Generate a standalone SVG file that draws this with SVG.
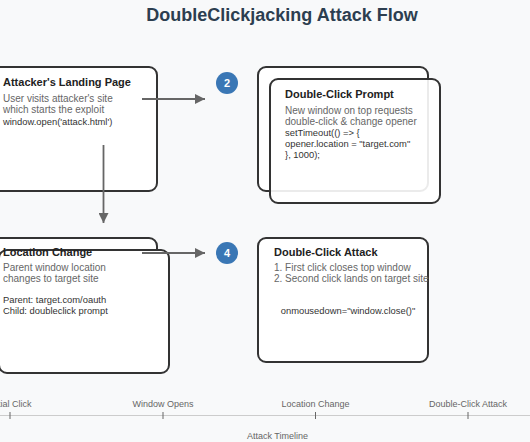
<svg xmlns="http://www.w3.org/2000/svg" width="530" height="442" viewBox="0 0 530 442">
<defs>
<marker id="arr" viewBox="0 0 10 10" refX="10" refY="5" markerWidth="10" markerHeight="10" markerUnits="userSpaceOnUse" orient="auto">
<path d="M0,0 L10,5 L0,10 Z" fill="#666"/>
</marker>
</defs>
<style>
.box{fill:#fff;stroke:#333;stroke-width:2}
.ttl{font-family:"Liberation Sans",Arial,sans-serif;font-size:11px;font-weight:bold;fill:#222}
.txt{font-family:"Liberation Sans",Arial,sans-serif;font-size:10px;fill:#666}
.code{font-family:"Liberation Sans",Arial,sans-serif;font-size:9.4px;fill:#333}
.num{font-family:"Liberation Sans",Arial,sans-serif;font-size:11px;font-weight:bold;fill:#fff}
.circ{fill:#3a77b5}
.conn{stroke:#666;stroke-width:1.8;fill:none}
.tl{font-family:"Liberation Sans",Arial,sans-serif;font-size:9px;fill:#666}
</style>
<rect width="530" height="442" fill="#f8f9fa"/>
<text x="282" y="21" text-anchor="middle" font-family="'Liberation Sans',Arial,sans-serif" font-size="18" font-weight="bold" fill="#2c3e50">DoubleClickjacking Attack Flow</text>

<g id="node-landing">
<rect class="box" x="-13" y="67" width="170" height="124" rx="8"/>
<text class="ttl" x="3" y="86">Attacker's Landing Page</text>
<text class="txt" x="3" y="102">User visits attacker's site</text>
<text class="txt" x="3" y="113">which starts the exploit</text>
<text class="code" x="3" y="125">window.open('attack.html')</text>
</g>

<g id="node-prompt">
<rect class="box" x="258" y="67" width="170" height="124" rx="8"/>
<rect class="box" x="270" y="79" width="170" height="124" rx="8" fill-opacity="0.9"/>
<text class="ttl" x="285" y="98">Double-Click Prompt</text>
<text class="txt" x="285" y="114">New window on top requests</text>
<text class="txt" x="285" y="125">double-click &amp; change opener</text>
<text class="code" x="285" y="136">setTimeout(() =&gt; {</text>
<text class="code" x="285" y="147">opener.location = "target.com"</text>
<text class="code" x="285" y="158">}, 1000);</text>
</g>

<g id="node-location">
<rect class="box" x="-13" y="238" width="170" height="124" rx="8"/>
<rect class="box" x="-1" y="250" width="170" height="123" rx="8"/>
<text class="ttl" x="3" y="256">Location Change</text>
<text class="txt" x="3" y="271">Parent window location</text>
<text class="txt" x="3" y="282">changes to target site</text>
<text class="code" x="3" y="303">Parent: target.com/oauth</text>
<text class="code" x="3" y="314">Child: doubleclick prompt</text>
</g>

<g id="node-attack">
<rect class="box" x="258" y="238" width="170" height="124" rx="8"/>
<text class="ttl" x="274" y="256">Double-Click Attack</text>
<text class="txt" x="274" y="271">1. First click closes top window</text>
<text class="txt" x="274" y="282">2. Second click lands on target site</text>
<text class="code" x="348" y="314" text-anchor="middle">onmousedown="window.close()"</text>
</g>

<g id="step-2">
<circle class="circ" cx="227" cy="83" r="11"/>
<text class="num" x="227" y="87" text-anchor="middle">2</text>
</g>
<g id="step-4">
<circle class="circ" cx="227" cy="253" r="11"/>
<text class="num" x="227" y="257" text-anchor="middle">4</text>
</g>

<g id="connectors">
<line class="conn" x1="142" y1="99" x2="205" y2="99" marker-end="url(#arr)"/>
<line class="conn" x1="103.5" y1="145" x2="103.5" y2="223" marker-end="url(#arr)"/>
<line class="conn" x1="142" y1="253" x2="205" y2="253" marker-end="url(#arr)"/>
</g>

<g id="timeline">
<line x1="0" y1="415.5" x2="530" y2="415.5" stroke="#ccc" stroke-width="1"/>
<g stroke="#666" stroke-width="1">
<line x1="10" y1="412" x2="10" y2="419"/>
<line x1="163" y1="412" x2="163" y2="419"/>
<line x1="315.5" y1="412" x2="315.5" y2="419"/>
<line x1="468" y1="412" x2="468" y2="419"/>
</g>
<text class="tl" x="10" y="407" text-anchor="middle">Initial Click</text>
<text class="tl" x="163" y="407" text-anchor="middle">Window Opens</text>
<text class="tl" x="315.5" y="407" text-anchor="middle">Location Change</text>
<text class="tl" x="468" y="407" text-anchor="middle">Double-Click Attack</text>
<text class="tl" x="277.5" y="439" text-anchor="middle" fill="#555">Attack Timeline</text>
</g>
</svg>
